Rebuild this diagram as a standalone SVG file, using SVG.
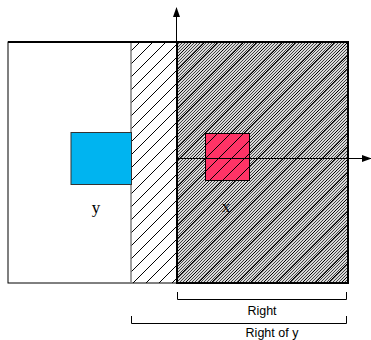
<svg xmlns="http://www.w3.org/2000/svg" width="371" height="340" viewBox="0 0 371 340">
<defs>
<pattern id="sparse" patternUnits="userSpaceOnUse" width="13" height="13">
<path d="M0,13 L13,0 M-2,2 L2,-2 M11,15 L15,11" stroke="#000" stroke-width="1" fill="none"/>
</pattern>
<pattern id="dense" patternUnits="userSpaceOnUse" width="3" height="3">
<rect width="3" height="3" fill="#d8d8d8"/>
<path d="M0,3 L3,0 M-1,1 L1,-1 M2,4 L4,2" stroke="#000" stroke-width="0.7" fill="none"/>
</pattern>
<marker id="arr" markerWidth="10" markerHeight="8" refX="9" refY="4" orient="auto" markerUnits="userSpaceOnUse">
<path d="M0,0.5 L10,4 L0,7.5 Z" fill="#000"/>
</marker>
<style>
.lbl{font-family:"Liberation Sans",Arial,sans-serif;font-size:12.5px;fill:#000;text-anchor:middle}
.var{font-family:"Liberation Serif","Times New Roman",serif;font-size:17px;fill:#000;text-anchor:middle}
.br{stroke:#000;stroke-width:1;fill:none}
</style>
</defs>
<g id="outer">
<rect x="8" y="42" width="340" height="241" fill="#fff" stroke="#000" stroke-width="1"/>
</g>
<g id="right-region">
<rect x="177" y="42" width="171" height="241" fill="url(#dense)"/>
</g>
<g id="x-box">
<rect x="205.5" y="133.5" width="44" height="47" fill="#ff3366" stroke="#000" stroke-width="1"/>
<text class="var" x="226" y="212">x</text>
</g>
<g id="right-of-y-region">
<rect x="131" y="42" width="217" height="241" fill="url(#sparse)"/>
<line x1="131" y1="42" x2="131" y2="283" stroke="#808080" stroke-width="1.5"/>
<rect x="177" y="42" width="171" height="241" fill="none" stroke="#000" stroke-width="2"/>
<line x1="8" y1="42" x2="348" y2="42" stroke="#000" stroke-width="2"/>
</g>
<g id="y-box">
<rect x="71" y="132.5" width="60.5" height="52" fill="#00b4f0" stroke="#333" stroke-width="1"/>
<text class="var" x="96" y="213">y</text>
</g>
<g id="connectors">
<line x1="176.5" y1="283" x2="176.5" y2="8" stroke="#000" stroke-width="1" marker-end="url(#arr)"/>
<line x1="177" y1="158.5" x2="371" y2="158.5" stroke="#000" stroke-width="1" marker-end="url(#arr)"/>
</g>
<g id="right-bracket">
<path class="br" d="M177.5,292 V299.5 H346.5 V292"/>
<text class="lbl" x="262" y="315">Right</text>
</g>
<g id="right-of-y-bracket">
<path class="br" d="M131.5,316 V323.5 H346.5 V316"/>
<text class="lbl" x="272" y="337">Right of y</text>
</g>
</svg>
